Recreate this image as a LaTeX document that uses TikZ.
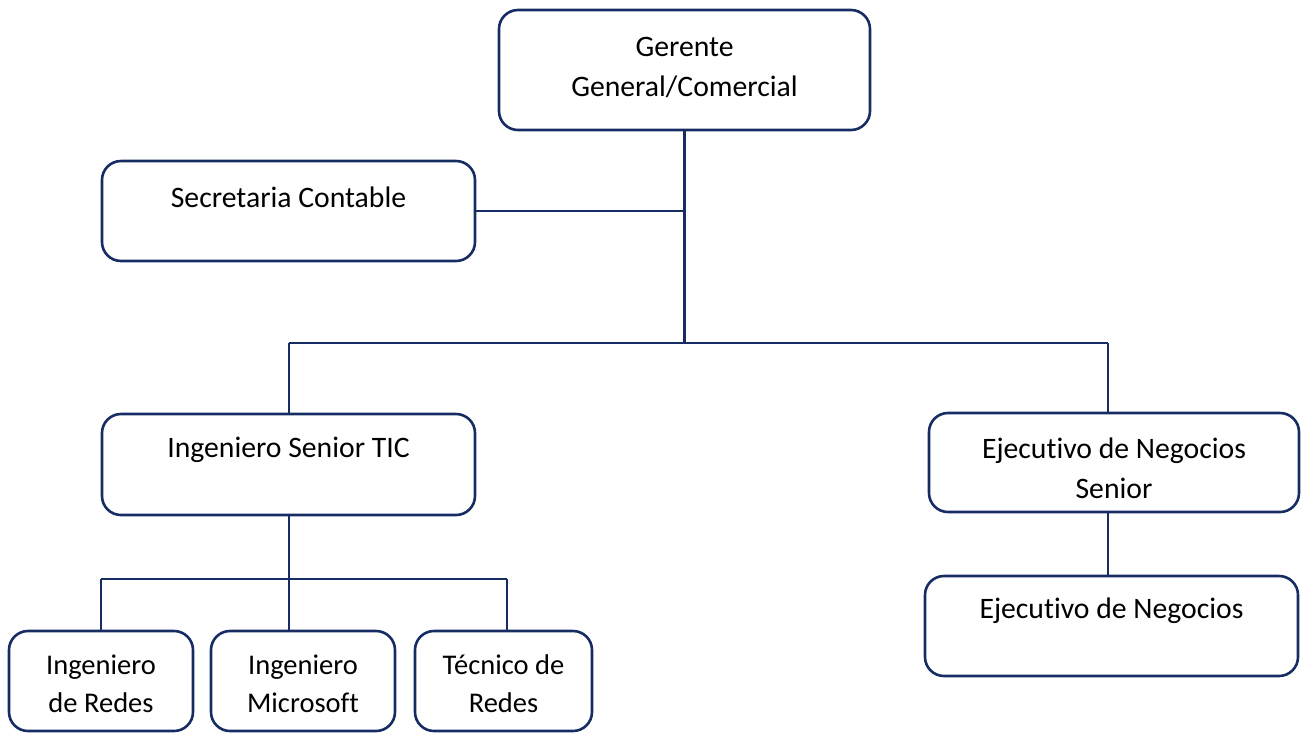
\documentclass[tikz,border=0pt]{standalone}
\usepackage{fontspec}
\setmainfont[Ligatures=CommonOff]{Carlito}
\definecolor{navy}{RGB}{22,44,98}
\begin{document}
\begin{tikzpicture}[x=1pt,y=-1pt,
  box/.style={draw=navy,line width=2.6pt,rounded corners=19pt,inner sep=0pt},
  txt/.style={align=center,inner sep=0pt,font=\fontsize{29.7}{40}\selectfont},
  stxt/.style={align=center,inner sep=0pt,font=\fontsize{28.5}{38}\selectfont},
  conn/.style={draw=navy,line width=2.7pt}]
\useasboundingbox (0,0) rectangle (1304,732);
% boxes
\node[box,minimum width=371pt,minimum height=120pt] (ger) at (684.5,70) {};
\node[txt] (gert) at (684.5,67) {Gerente\\General/Comercial};
\node[box,minimum width=373pt,minimum height=100pt] (sec) at (288.5,211) {};
\node[txt] (sect) at (288.5,197) {Secretaria Contable};
\node[box,minimum width=373pt,minimum height=101pt] (ist) at (288.5,464.5) {};
\node[txt] (istt) at (288.5,450) {Ingeniero Senior TIC};
\node[box,minimum width=370pt,minimum height=99pt] (ens) at (1114,462.5) {};
\node[txt] (enst) at (1114,468) {Ejecutivo de Negocios\\Senior};
\node[box,minimum width=373pt,minimum height=100pt] (en) at (1111.5,626) {};
\node[txt] (ent) at (1111.5,611) {Ejecutivo de Negocios};
\node[box,minimum width=184pt,minimum height=100pt] (b1) at (101,681) {};
\node[stxt] (b1t) at (101,684) {Ingeniero\\de Redes};
\node[box,minimum width=184pt,minimum height=100pt] (b2) at (303,681) {};
\node[stxt] (b2t) at (303,684) {Ingeniero\\Microsoft};
\node[box,minimum width=177pt,minimum height=100pt] (b3) at (503.5,681) {};
\node[stxt] (b3t) at (503.5,684) {Técnico de\\Redes};
% junctions
\coordinate (jT) at (684.5,343);
\coordinate (jL) at (289,343);
\coordinate (jR) at (1108,343);
\coordinate (kM) at (289,579);
\coordinate (kL) at (101,579);
\coordinate (kR) at (507,579);
% connectors
\draw[conn] (ger.south) -- (jT);
\draw[conn] (sec.east) -- (sec.east -| jT);
\draw[conn] (jL) -- (jR);
\draw[conn] (jL) -- (jL |- ist.north);
\draw[conn] (jR) -- (jR |- ens.north);
\draw[conn] (jR |- ens.south) -- (jR |- en.north);
\draw[conn] (kM |- ist.south) -- (kM);
\draw[conn] (kL) -- (kR);
\draw[conn] (kL) -- (kL |- b1.north);
\draw[conn] (kM) -- (kM |- b2.north);
\draw[conn] (kR) -- (kR |- b3.north);
\end{tikzpicture}
\end{document}
